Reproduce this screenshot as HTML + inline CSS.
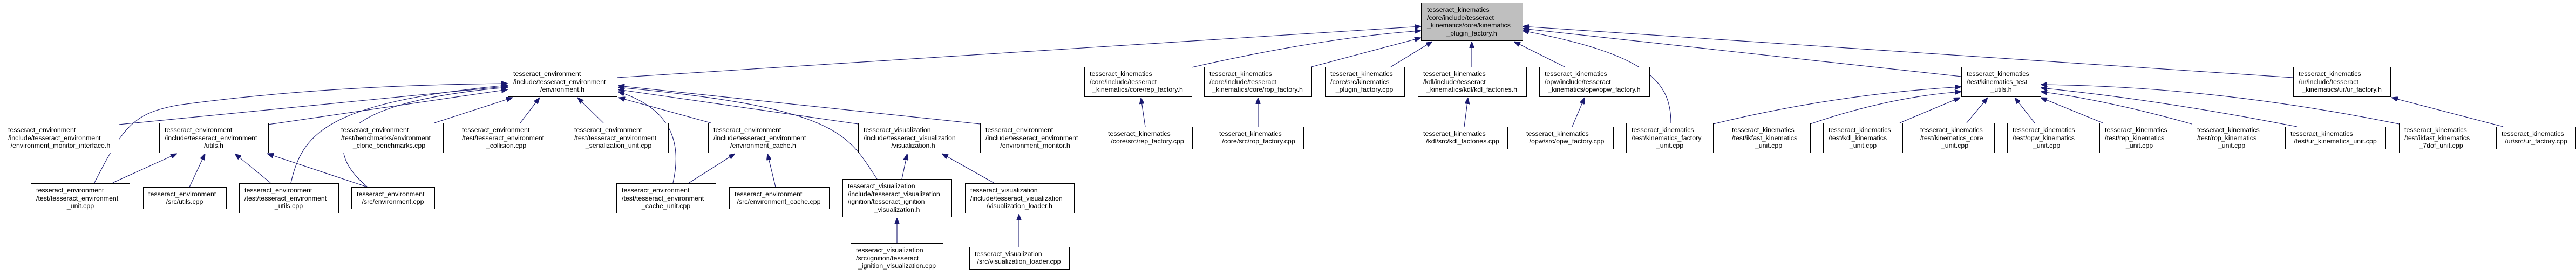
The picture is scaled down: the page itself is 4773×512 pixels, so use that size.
<!DOCTYPE html>
<html><head><meta charset="utf-8"><style>
html,body{margin:0;padding:0;background:#fff}
svg{display:block}
text{font-family:"Liberation Sans",Arial,sans-serif;font-size:12.4px;fill:#000}
.b{fill:#fff;stroke:#000;stroke-width:1}
.m{fill:#bfbfbf;stroke:#000;stroke-width:1}
.e{fill:none;stroke:#191970;stroke-width:1.1}
</style></head><body>
<svg width="4773" height="512" viewBox="0 0 4773 512" xmlns="http://www.w3.org/2000/svg">
<defs><marker id="a" markerUnits="userSpaceOnUse" markerWidth="12" markerHeight="9" refX="12" refY="4.5" orient="auto"><path d="M0,0 L12,4.5 L0,9 z" fill="#191970" stroke="#191970"/></marker></defs>
<g marker-end="url(#a)" class="e">
<path class="e" d="M220,231 L941,160"/>
<path class="e" d="M497,231 L941,166"/>
<path class="e" d="M175,339 C230,230 250,210 330,195 Q600,158 941,155"/>
<path class="e" d="M539,339 C560,250 600,190 941,158"/>
<path class="e" d="M681,347 C590,270 620,190 941,162"/>
<path class="e" d="M805,228 L950,181"/>
<path class="e" d="M964,228 L1000,181"/>
<path class="e" d="M1118,228 L1070,181"/>
<path class="e" d="M1317,228 L1146,181"/>
<path class="e" d="M1247,339 C1265,260 1240,200 1145,170"/>
<path class="e" d="M1625,332 C1570,250 1560,200 1145,162"/>
<path class="e" d="M1590,230 L1145,166"/>
<path class="e" d="M1816,230 L1145,159"/>
<path class="e" d="M1143,144 L2633,49"/>
<path class="e" d="M209,339 L328,285"/>
<path class="e" d="M351,347 L380,285"/>
<path class="e" d="M501,339 L435,285"/>
<path class="e" d="M681,347 L495,285"/>
<path class="e" d="M1277,339 L1362,285"/>
<path class="e" d="M1437,347 L1422,285"/>
<path class="e" d="M1671,332 L1681,285"/>
<path class="e" d="M1841,339 L1745,285"/>
<path class="e" d="M1662,451 L1662,404"/>
<path class="e" d="M1888,458 L1888,397"/>
<path class="e" d="M2208,125 Q2450,70 2633,57"/>
<path class="e" d="M2430,124 L2633,70"/>
<path class="e" d="M2577,124 L2654,77"/>
<path class="e" d="M2727,124 L2727,77"/>
<path class="e" d="M2899,124 L2805,77"/>
<path class="e" d="M3096,228 C3096,150 3050,100 2821,57"/>
<path class="e" d="M3634,142 L2821,53"/>
<path class="e" d="M4249,144 L2821,49"/>
<path class="e" d="M2122,235 L2114,181"/>
<path class="e" d="M2331,235 L2331,181"/>
<path class="e" d="M2713,235 L2720,181"/>
<path class="e" d="M2913,235 L2936,181"/>
<path class="e" d="M3174,230 Q3400,175 3634,161"/>
<path class="e" d="M3354,230 Q3500,180 3634,170"/>
<path class="e" d="M3520,228 L3632,181"/>
<path class="e" d="M3644,228 L3683,181"/>
<path class="e" d="M3770,228 L3733,181"/>
<path class="e" d="M3896,228 L3781,181"/>
<path class="e" d="M4061,230 Q3900,185 3781,170"/>
<path class="e" d="M4256,235 Q4000,185 3781,163"/>
<path class="e" d="M4445,230 Q4100,160 3781,157"/>
<path class="e" d="M4638,235 L4431,181"/>
</g>

<!-- nodes -->
<rect class="m" x="2633.5" y="5.5" width="188" height="70"/>
<text x="2644" y="22">tesseract_kinematics</text><text x="2644" y="37">/core/include/tesseract</text><text x="2644" y="51">_kinematics/core/kinematics</text><text x="2727" y="66" text-anchor="middle">_plugin_factory.h</text>

<rect class="b" x="5.5" y="228.5" width="215" height="55"/>
<text x="15" y="245">tesseract_environment</text><text x="15" y="260">/include/tesseract_environment</text><text x="112" y="274" text-anchor="middle">/environment_monitor_interface.h</text>

<rect class="b" x="295.5" y="228.5" width="202" height="55"/>
<text x="305" y="245">tesseract_environment</text><text x="305" y="260">/include/tesseract_environment</text><text x="396" y="274" text-anchor="middle">/utils.h</text>

<rect class="b" x="622.5" y="228.5" width="199" height="55"/>
<text x="632" y="245">tesseract_environment</text><text x="632" y="260">/test/benchmarks/environment</text><text x="721" y="274" text-anchor="middle">_clone_benchmarks.cpp</text>

<rect class="b" x="846.5" y="228.5" width="184" height="55"/>
<text x="856" y="245">tesseract_environment</text><text x="856" y="260">/test/tesseract_environment</text><text x="938" y="274" text-anchor="middle">_collision.cpp</text>

<rect class="b" x="941.5" y="124.5" width="202" height="55"/>
<text x="951" y="141">tesseract_environment</text><text x="951" y="156">/include/tesseract_environment</text><text x="1042" y="170" text-anchor="middle">/environment.h</text>

<rect class="b" x="1054.5" y="228.5" width="184" height="55"/>
<text x="1064" y="245">tesseract_environment</text><text x="1064" y="260">/test/tesseract_environment</text><text x="1146" y="274" text-anchor="middle">_serialization_unit.cpp</text>

<rect class="b" x="1312.5" y="228.5" width="203" height="55"/>
<text x="1322" y="245">tesseract_environment</text><text x="1322" y="260">/include/tesseract_environment</text><text x="1414" y="274" text-anchor="middle">/environment_cache.h</text>

<rect class="b" x="1590.5" y="228.5" width="203" height="55"/>
<text x="1600" y="245">tesseract_visualization</text><text x="1600" y="260">/include/tesseract_visualization</text><text x="1692" y="274" text-anchor="middle">/visualization.h</text>

<rect class="b" x="1816.5" y="228.5" width="203" height="55"/>
<text x="1826" y="245">tesseract_environment</text><text x="1826" y="260">/include/tesseract_environment</text><text x="1918" y="274" text-anchor="middle">/environment_monitor.h</text>

<rect class="b" x="57.5" y="340.5" width="183" height="55"/>
<text x="67" y="357">tesseract_environment</text><text x="67" y="372">/test/tesseract_environment</text><text x="149" y="386" text-anchor="middle">_unit.cpp</text>

<rect class="b" x="265.5" y="347.5" width="154" height="40"/>
<text x="275" y="364">tesseract_environment</text><text x="342" y="378" text-anchor="middle">/src/utils.cpp</text>

<rect class="b" x="443.5" y="340.5" width="184" height="55"/>
<text x="453" y="357">tesseract_environment</text><text x="453" y="372">/test/tesseract_environment</text><text x="535" y="386" text-anchor="middle">_utils.cpp</text>

<rect class="b" x="651.5" y="347.5" width="154" height="40"/>
<text x="661" y="364">tesseract_environment</text><text x="728" y="378" text-anchor="middle">/src/environment.cpp</text>

<rect class="b" x="1142.5" y="340.5" width="184" height="55"/>
<text x="1152" y="357">tesseract_environment</text><text x="1152" y="372">/test/tesseract_environment</text><text x="1234" y="386" text-anchor="middle">_cache_unit.cpp</text>

<rect class="b" x="1351.5" y="347.5" width="185" height="40"/>
<text x="1361" y="364">tesseract_environment</text><text x="1443" y="378" text-anchor="middle">/src/environment_cache.cpp</text>

<rect class="b" x="1561.5" y="332.5" width="202" height="70"/>
<text x="1571" y="349">tesseract_visualization</text><text x="1571" y="364">/include/tesseract_visualization</text><text x="1571" y="378">/ignition/tesseract_ignition</text><text x="1662" y="393" text-anchor="middle">_visualization.h</text>

<rect class="b" x="1788.5" y="340.5" width="202" height="55"/>
<text x="1798" y="357">tesseract_visualization</text><text x="1798" y="372">/include/tesseract_visualization</text><text x="1889" y="386" text-anchor="middle">/visualization_loader.h</text>

<rect class="b" x="1576.5" y="451.5" width="171" height="55"/>
<text x="1586" y="468">tesseract_visualization</text><text x="1586" y="483">/src/ignition/tesseract</text><text x="1662" y="497" text-anchor="middle">_ignition_visualization.cpp</text>

<rect class="b" x="1796.5" y="458.5" width="185" height="41"/>
<text x="1806" y="475">tesseract_visualization</text><text x="1888" y="489" text-anchor="middle">/src/visualization_loader.cpp</text>

<rect class="b" x="2009.5" y="124.5" width="199" height="55"/>
<text x="2019" y="141">tesseract_kinematics</text><text x="2019" y="156">/core/include/tesseract</text><text x="2108" y="170" text-anchor="middle">_kinematics/core/rep_factory.h</text>

<rect class="b" x="2231.5" y="124.5" width="199" height="55"/>
<text x="2241" y="141">tesseract_kinematics</text><text x="2241" y="156">/core/include/tesseract</text><text x="2330" y="170" text-anchor="middle">_kinematics/core/rop_factory.h</text>

<rect class="b" x="2455.5" y="124.5" width="147" height="55"/>
<text x="2465" y="141">tesseract_kinematics</text><text x="2465" y="156">/core/src/kinematics</text><text x="2528" y="170" text-anchor="middle">_plugin_factory.cpp</text>

<rect class="b" x="2627.5" y="124.5" width="201" height="55"/>
<text x="2637" y="141">tesseract_kinematics</text><text x="2637" y="156">/kdl/include/tesseract</text><text x="2727" y="170" text-anchor="middle">_kinematics/kdl/kdl_factories.h</text>

<rect class="b" x="2852.5" y="124.5" width="204" height="55"/>
<text x="2862" y="141">tesseract_kinematics</text><text x="2862" y="156">/opw/include/tesseract</text><text x="2954" y="170" text-anchor="middle">_kinematics/opw/opw_factory.h</text>

<rect class="b" x="2043.5" y="235.5" width="166" height="41"/>
<text x="2053" y="252">tesseract_kinematics</text><text x="2126" y="266" text-anchor="middle">/core/src/rep_factory.cpp</text>

<rect class="b" x="2249.5" y="235.5" width="166" height="41"/>
<text x="2259" y="252">tesseract_kinematics</text><text x="2332" y="266" text-anchor="middle">/core/src/rop_factory.cpp</text>

<rect class="b" x="2627.5" y="235.5" width="166" height="41"/>
<text x="2637" y="252">tesseract_kinematics</text><text x="2710" y="266" text-anchor="middle">/kdl/src/kdl_factories.cpp</text>

<rect class="b" x="2818.5" y="235.5" width="171" height="41"/>
<text x="2828" y="252">tesseract_kinematics</text><text x="2903" y="266" text-anchor="middle">/opw/src/opw_factory.cpp</text>

<rect class="b" x="3634.5" y="124.5" width="147" height="55"/>
<text x="3644" y="141">tesseract_kinematics</text><text x="3644" y="156">/test/kinematics_test</text><text x="3708" y="170" text-anchor="middle">_utils.h</text>

<rect class="b" x="3013.5" y="228.5" width="161" height="55"/>
<text x="3023" y="245">tesseract_kinematics</text><text x="3023" y="260">/test/kinematics_factory</text><text x="3094" y="274" text-anchor="middle">_unit.cpp</text>

<rect class="b" x="3199.5" y="228.5" width="155" height="55"/>
<text x="3209" y="245">tesseract_kinematics</text><text x="3209" y="260">/test/ikfast_kinematics</text><text x="3277" y="274" text-anchor="middle">_unit.cpp</text>

<rect class="b" x="3378.5" y="228.5" width="147" height="55"/>
<text x="3388" y="245">tesseract_kinematics</text><text x="3388" y="260">/test/kdl_kinematics</text><text x="3452" y="274" text-anchor="middle">_unit.cpp</text>

<rect class="b" x="3548.5" y="228.5" width="147" height="55"/>
<text x="3558" y="245">tesseract_kinematics</text><text x="3558" y="260">/test/kinematics_core</text><text x="3622" y="274" text-anchor="middle">_unit.cpp</text>

<rect class="b" x="3719.5" y="228.5" width="146" height="55"/>
<text x="3729" y="245">tesseract_kinematics</text><text x="3729" y="260">/test/opw_kinematics</text><text x="3792" y="274" text-anchor="middle">_unit.cpp</text>

<rect class="b" x="3890.5" y="228.5" width="147" height="55"/>
<text x="3900" y="245">tesseract_kinematics</text><text x="3900" y="260">/test/rep_kinematics</text><text x="3964" y="274" text-anchor="middle">_unit.cpp</text>

<rect class="b" x="4061.5" y="228.5" width="148" height="55"/>
<text x="4071" y="245">tesseract_kinematics</text><text x="4071" y="260">/test/rop_kinematics</text><text x="4135" y="274" text-anchor="middle">_unit.cpp</text>

<rect class="b" x="4234.5" y="235.5" width="186" height="41"/>
<text x="4244" y="252">tesseract_kinematics</text><text x="4327" y="266" text-anchor="middle">/test/ur_kinematics_unit.cpp</text>

<rect class="b" x="4445.5" y="228.5" width="155" height="55"/>
<text x="4455" y="245">tesseract_kinematics</text><text x="4455" y="260">/test/ikfast_kinematics</text><text x="4523" y="274" text-anchor="middle">_7dof_unit.cpp</text>

<rect class="b" x="4625.5" y="235.5" width="147" height="41"/>
<text x="4635" y="252">tesseract_kinematics</text><text x="4699" y="266" text-anchor="middle">/ur/src/ur_factory.cpp</text>

<rect class="b" x="4249.5" y="124.5" width="180" height="55"/>
<text x="4259" y="141">tesseract_kinematics</text><text x="4259" y="156">/ur/include/tesseract</text><text x="4339" y="170" text-anchor="middle">_kinematics/ur/ur_factory.h</text>
</svg>
</body></html>
